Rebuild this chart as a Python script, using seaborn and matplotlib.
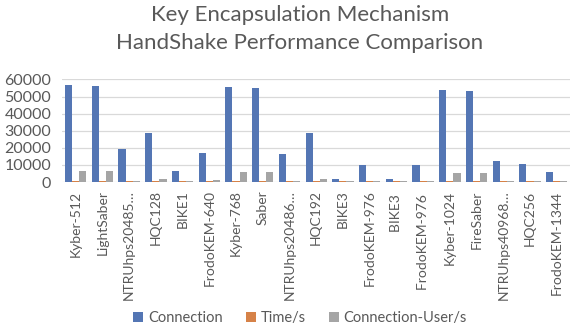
import matplotlib
matplotlib.use("Agg")
import matplotlib.pyplot as plt
import seaborn as sns
import pandas as pd

schemes = ["Kyber-512", "LightSaber", "NTRUhps20485…", "HQC128", "BIKE1",
           "FrodoKEM-640", "Kyber-768", "Saber", "NTRUhps20486…", "HQC192",
           "BIKE3", "FrodoKEM-976", "BIKE3 ", "FrodoKEM-976 ", "Kyber-1024",
           "FireSaber", "NTRUhps40968…", "HQC256", "FrodoKEM-1344"]
connection = [56800, 56400, 19400, 28700, 6600, 16800, 55300, 55200, 16200,
              28600, 2000, 10200, 2000, 9900, 53900, 53000, 12500, 10800, 6000]
time_s = [800, 800, 800, 800, 800, 800, 800, 800, 800,
          800, 800, 800, 800, 800, 800, 800, 800, 800, 800]
conn_user = [6500, 6300, 900, 2000, 500, 1000, 6000, 5900, 700,
             2000, 400, 600, 400, 600, 5300, 5000, 700, 700, 500]
series = ["Connection", "Time/s", "Connection-User/s"]
colors = ["#4472C4", "#ED7D31", "#A5A5A5"]
yticks = [0, 10000, 20000, 30000, 40000, 50000, 60000]

df = pd.DataFrame({
    "scheme": schemes * 3,
    "metric": [series[0]] * len(schemes) + [series[1]] * len(schemes) + [series[2]] * len(schemes),
    "value": connection + time_s + conn_user,
})

sns.set_theme(style="white")
plt.rcParams["font.family"] = ["Lato", "DejaVu Sans"]

fig = plt.figure(figsize=(5.77, 3.31), dpi=100)
ax = fig.add_axes([0.108, 0.45, 0.88, 0.31])

sns.barplot(data=df, x="scheme", y="value", hue="metric", order=schemes,
            hue_order=series, palette=colors, width=0.8, ax=ax,
            edgecolor="none", legend=True)

ax.set_ylim(0, 60000)
ax.set_yticks(yticks)
ax.set_yticklabels([str(v) for v in yticks], fontsize=11.5, color="#595959")
ax.set_xlim(-0.5, len(schemes) - 0.5)
ax.set_xlabel("")
ax.set_ylabel("")
ax.yaxis.grid(True, color="#D9D9D9", linewidth=0.9)
ax.set_axisbelow(True)
for s in ax.spines.values():
    s.set_visible(False)
ax.tick_params(axis="y", length=0, pad=8)
ax.tick_params(axis="x", length=0, pad=6)
plt.setp(ax.get_xticklabels(), rotation=90, fontsize=10, color="#595959")

handles, labels = ax.get_legend_handles_labels()
ax.legend_.remove()
fig.legend(handles, labels, loc="center", bbox_to_anchor=(0.52, 0.04), ncol=3,
           frameon=False, fontsize=10.5, handlelength=0.7, handleheight=0.7,
           handletextpad=0.3, columnspacing=1.6, labelcolor="#595959")

fig.text(0.52, 0.955, "Key Encapsulation Mechanism", ha="center", va="center",
         fontsize=16, color="#595959")
fig.text(0.52, 0.87, "HandShake Performance Comparison", ha="center", va="center",
         fontsize=16, color="#595959")

fig.savefig("out.png", dpi=100)
